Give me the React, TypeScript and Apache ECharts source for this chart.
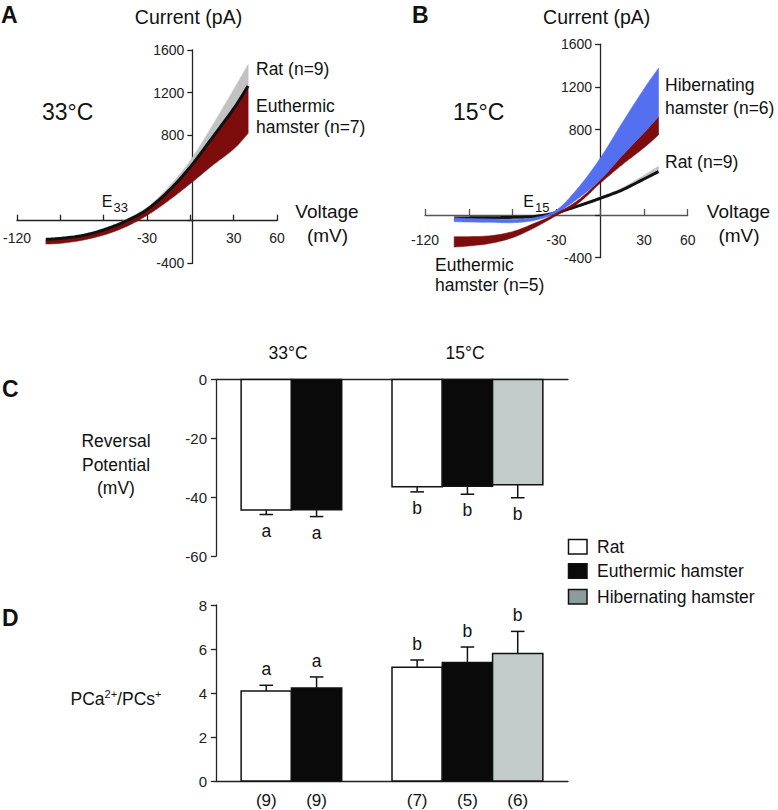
import React, { useEffect, useRef } from "react";
import * as echarts from "echarts";

// ---------- Data: I-V curves (A: 33 °C, B: 15 °C) ----------
const voltages = [-100, -90, -75, -60, -45, -30, -15, 0, 15, 30, 40];

const ratMean33 = [-175, -166, -140, -86, -6, 105, 280, 505, 775, 1050, 1263];
const ratErr33 = [8, 8, 10, 12, 15, 20, 35, 60, 110, 180, 200];
const euthTop33 = [-178, -169, -144, -92, -13, 95, 268, 492, 762, 1036, 1250];
const euthBottom33 = [-218, -212, -183, -134, -59, 50, 190, 348, 515, 672, 819];

const ratMean15 = [-28, -27, -26, -22, -14, 22, 85, 156, 234, 337, 406];
const ratErr15 = [5, 5, 5, 5, 5, 6, 8, 12, 20, 35, 50];
const hibTop15 = [-25, -33, -37, -40, -25, 45, 255, 531, 860, 1180, 1375];
const hibBottom15 = [-62, -66, -68, -72, -50, 20, 156, 328, 555, 770, 921];
const euthTop15 = [-203, -203, -194, -156, -78, 15, 140, 328, 555, 770, 921];
const euthBottom15 = [-300, -290, -265, -212, -119, -5, 110, 297, 470, 630, 750];

const xTickLabelsShown = [-120, -30, 30, 60];
const yTickLabelsShown = [1600, 1200, 800, -400];

// ---------- Data: bar panels (C, D) ----------
const groupNames = ["Rat", "Euthermic hamster", "Hibernating hamster"];
const barPositions = [1, 2, 4, 5, 6];
const barGroup = [0, 1, 0, 1, 2];
const reversalMean = [-44.4, -44.3, -36.5, -36.3, -35.8];
const reversalSem = [1.5, 2.3, 1.7, 2.7, 4.4];
const reversalLetters = ["a", "a", "b", "b", "b"];
const permMean = [4.09, 4.23, 5.17, 5.39, 5.79];
const permSem = [0.26, 0.5, 0.33, 0.7, 1.01];
const permLetters = ["a", "a", "b", "b", "b"];
const nLabels = ["(9)", "(9)", "(7)", "(5)", "(6)"];

const FONT = "'Liberation Sans', Arial, Helvetica, sans-serif";
const barFills = ["#ffffff", "#0a0a0a", "#c3cbca"];
const legendFills = ["#ffffff", "#0a0a0a", "#8d9c9a"];
const RED = "#7d0c0c";
const BLUE = "#5470f0";
const GREY = "#c2c2c2";

// Catmull-Rom smoothing of pixel points (render-time only)
function smoothPts(p: number[][]): number[][] {
  const out: number[][] = [];
  const n = p.length;
  for (let i = 0; i < n - 1; i++) {
    const p0 = p[Math.max(0, i - 1)];
    const p1 = p[i];
    const p2 = p[i + 1];
    const p3 = p[Math.min(n - 1, i + 2)];
    const steps = 12;
    for (let s = 0; s < steps; s++) {
      const t = s / steps;
      const t2 = t * t;
      const t3 = t2 * t;
      const f = (a: number, b: number, c: number, d: number) =>
        0.5 * (2 * b + (-a + c) * t + (2 * a - 5 * b + 4 * c - d) * t2 + (-a + 3 * b - 3 * c + d) * t3);
      out.push([f(p0[0], p1[0], p2[0], p3[0]), f(p0[1], p1[1], p2[1], p3[1])]);
    }
  }
  out.push(p[n - 1]);
  return out;
}

function bandSeries(gi: number, bottom: number[], top: number[], color: string, z: number) {
  return {
    type: "custom", xAxisIndex: gi, yAxisIndex: gi, silent: true, z,
    data: [[voltages[0], top[0]]],
    renderItem: (params: any, api: any) => {
      const t = smoothPts(voltages.map((v, i) => api.coord([v, top[i]])));
      const b = smoothPts(voltages.map((v, i) => api.coord([v, bottom[i]]))).reverse();
      return {
        type: "polygon",
        shape: { points: t.concat(b) },
        style: { fill: color, stroke: color, lineWidth: 0.6 },
      };
    },
  };
}

function meanLine(gi: number, ys: number[], z: number) {
  return {
    type: "custom", xAxisIndex: gi, yAxisIndex: gi, silent: true, z,
    data: [[voltages[0], ys[0]]],
    renderItem: (params: any, api: any) => ({
      type: "polyline",
      shape: { points: smoothPts(voltages.map((v, i) => api.coord([v, ys[i]]))) },
      style: { stroke: "#111", lineWidth: 3, fill: "none" },
    }),
  };
}

function ivAxes(gi: number, gridW: number, gridH: number, labelMarginX: number, yPadTop: number, xColor: string) {
  const x = {
    type: "value", gridIndex: gi, min: -120, max: 60, interval: 30,
    position: "bottom", offset: -(gridH * 400) / 2000,
    axisLine: { onZero: false, lineStyle: { color: xColor, width: 1.3 } },
    axisTick: { inside: true, length: 6, lineStyle: { color: xColor, width: 1.3 } },
    splitLine: { show: false },
    axisLabel: {
      margin: labelMarginX, fontSize: 14, fontFamily: FONT, color: "#222",
      formatter: (v: number) => (xTickLabelsShown.includes(v) ? String(v) : ""),
    },
  };
  const y = {
    type: "value", gridIndex: gi, min: -400, max: 1600, interval: 400,
    position: "left", offset: -(gridW * 120) / 180,
    axisLine: { show: true, onZero: false, lineStyle: { color: "#222", width: 1.3 } },
    axisTick: { show: true, length: 5, lineStyle: { color: "#222", width: 1.3 } },
    splitLine: { show: false },
    axisLabel: {
      margin: 8, fontSize: 14, fontFamily: FONT, color: "#222", padding: [yPadTop, 0, 0, 0],
      formatter: (v: number) => (yTickLabelsShown.includes(v) ? String(v) : ""),
    },
  };
  return { x, y };
}

function barRenderer(letters: string[], withN: boolean) {
  return (params: any, api: any) => {
    const x = api.value(0);
    const y = api.value(1);
    const e = api.value(2);
    const idx = api.value(3);
    const base = api.coord([x, 0]);
    const top = api.coord([x, y]);
    const w = api.size([1, 0])[0];
    const dir = y < 0 ? -1 : 1;
    const end = api.coord([x, y + dir * e]);
    const stroke = { stroke: "#111", lineWidth: 1.5 };
    const children: any[] = [
      { type: "line", shape: { x1: top[0], y1: top[1], x2: end[0], y2: end[1] }, style: stroke },
      { type: "line", shape: { x1: end[0] - 6.8, y1: end[1], x2: end[0] + 6.8, y2: end[1] }, style: stroke },
      {
        type: "rect",
        shape: {
          x: base[0] - w / 2, y: Math.min(base[1], top[1]),
          width: w, height: Math.abs(top[1] - base[1]),
        },
        style: { fill: barFills[barGroup[idx]], stroke: "#111", lineWidth: 1.5 },
      },
      {
        type: "text",
        x: end[0], y: end[1] - dir * 16,
        style: {
          text: letters[idx], fontSize: 17.5, fontFamily: FONT, fill: "#111",
          align: "center", verticalAlign: "middle",
          textAlign: "center", textVerticalAlign: "middle",
        },
      },
    ];
    if (withN) {
      children.push({
        type: "text",
        x: base[0], y: base[1] + 19.5,
        style: {
          text: nLabels[idx], fontSize: 17, fontFamily: FONT, fill: "#111",
          align: "center", verticalAlign: "middle",
          textAlign: "center", textVerticalAlign: "middle",
        },
      });
    }
    return { type: "group", children };
  };
}

function txt(text: string, x: number, y: number, size: number, align = "left", weight = "normal") {
  return {
    type: "text", x, y, silent: true,
    style: {
      text, fontSize: size, fontFamily: FONT, fontWeight: weight, fill: "#111",
      align, verticalAlign: "middle", textAlign: align, textVerticalAlign: "middle",
    },
  };
}

export default function App() {
  const ref = useRef<HTMLDivElement>(null);

  useEffect(() => {
    if (!ref.current) return;
    const chart = echarts.init(ref.current, undefined, { renderer: "svg" });

    const gA = { left: 14, top: 50, width: 263, height: 213.4 };
    const gB = { left: 425, top: 44.2, width: 262.7, height: 213.5 };
    const axA = ivAxes(0, gA.width, gA.height, 10, 0, "#222");
    const axB = ivAxes(1, gB.width, gB.height, 18, 12, "#555");

    const barX = (gi: number, position: string) => ({
      type: "value", gridIndex: gi, min: 0, max: 7, position,
      axisLine: { onZero: false, lineStyle: { color: "#222", width: 1.3 } },
      axisTick: { show: false }, axisLabel: { show: false }, splitLine: { show: false },
    });
    const barY = (gi: number, min: number, max: number, interval: number) => ({
      type: "value", gridIndex: gi, min, max, interval, position: "left",
      axisLine: { show: true, onZero: false, lineStyle: { color: "#222", width: 1.3 } },
      axisTick: { show: true, length: 5, lineStyle: { color: "#222", width: 1.3 } },
      splitLine: { show: false },
      axisLabel: { margin: 9, fontSize: 15, fontFamily: FONT, color: "#222" },
    });

    const legendRows = [546.7, 571, 596.7];

    const option: any = {
      animation: false,
      backgroundColor: "#ffffff",
      grid: [
        gA,
        gB,
        { left: 216, top: 379.5, width: 352, height: 176.5 },
        { left: 216, top: 605, width: 352, height: 176 },
      ],
      xAxis: [axA.x, axB.x, barX(2, "top"), barX(3, "bottom")],
      yAxis: [axA.y, axB.y, barY(2, -60, 0, 20), barY(3, 0, 8, 2)],
      series: [
        // Panel A
        bandSeries(0, ratMean33, ratMean33.map((m, i) => m + ratErr33[i]), GREY, 2),
        bandSeries(0, euthBottom33, euthTop33, RED, 3),
        meanLine(0, ratMean33, 4),
        // Panel B
        bandSeries(1, ratMean15, ratMean15.map((m, i) => m + ratErr15[i]), GREY, 2),
        meanLine(1, ratMean15, 3),
        bandSeries(1, euthBottom15, euthTop15, RED, 4),
        bandSeries(1, hibBottom15, hibTop15, BLUE, 5),
        // Panel C
        {
          type: "custom", xAxisIndex: 2, yAxisIndex: 2, silent: true,
          data: barPositions.map((p, i) => [p, reversalMean[i], reversalSem[i], i]),
          renderItem: barRenderer(reversalLetters, false),
        },
        // Panel D
        {
          type: "custom", xAxisIndex: 3, yAxisIndex: 3, silent: true,
          data: barPositions.map((p, i) => [p, permMean[i], permSem[i], i]),
          renderItem: barRenderer(permLetters, true),
        },
      ],
      graphic: {
        elements: [
          // Panel A
          txt("A", 1, 15, 23, "left", "bold"),
          txt("Current (pA)", 188.5, 17, 19.5, "center"),
          txt("33°C", 42, 112, 23),
          txt("Rat (n=9)", 256, 69, 17.5),
          txt("Euthermic", 256, 106, 17.5),
          txt("hamster (n=7)", 256, 127, 17.5),
          txt("Voltage", 327, 211.7, 19, "center"),
          txt("(mV)", 327.5, 235, 19, "center"),
          txt("E", 101.7, 201.7, 16),
          txt("33", 113.5, 207.5, 13),
          // Panel B
          txt("B", 412, 15, 23, "left", "bold"),
          txt("Current (pA)", 596.7, 16.7, 19.5, "center"),
          txt("15°C", 453, 111.7, 23),
          txt("Hibernating", 665, 85, 17.5),
          txt("hamster (n=6)", 665, 108.3, 17.5),
          txt("Rat (n=9)", 665, 162.3, 17.5),
          txt("Voltage", 738.5, 211.7, 19, "center"),
          txt("(mV)", 739, 235, 19, "center"),
          txt("Euthermic", 435, 265, 17.5),
          txt("hamster (n=5)", 435, 285, 17.5),
          txt("E", 523.3, 201.7, 16),
          txt("15", 535, 207.5, 13),
          // Panel C
          txt("C", 2, 389, 23, "left", "bold"),
          txt("33°C", 288, 352.7, 17.5, "center"),
          txt("15°C", 465, 352.7, 17.5, "center"),
          txt("Reversal", 116, 441, 17.5, "center"),
          txt("Potential", 116, 464.5, 17.5, "center"),
          txt("(mV)", 116, 488.3, 17.5, "center"),
          // Panel D
          txt("D", 2, 618, 23, "left", "bold"),
          {
            type: "text", x: 116, y: 699, silent: true,
            style: {
              text: "{n|PCa}{s|2+}{n|/PCs}{s|+}",
              fontFamily: FONT, fill: "#111",
              align: "center", verticalAlign: "middle",
              textAlign: "center", textVerticalAlign: "middle",
              rich: {
                n: { fontSize: 17.5, fontFamily: FONT, fill: "#111", lineHeight: 22 },
                s: { fontSize: 11, fontFamily: FONT, fill: "#111", lineHeight: 22, verticalAlign: "top" },
              },
            },
          },
          // Legend
          ...groupNames.flatMap((g, i) => [
            {
              type: "rect", silent: true,
              shape: { x: 568.5, y: legendRows[i] - 7.3, width: 18.5, height: 14.6 },
              style: { fill: legendFills[i], stroke: "#111", lineWidth: 1.5 },
            },
            txt(g, 597, legendRows[i], 17.5),
          ]),
        ],
      },
    };

    chart.setOption(option);
    return () => chart.dispose();
  }, []);

  return (
    <div
      ref={ref}
      style={{ position: "absolute", left: 0, top: 0, width: 778, height: 810 }}
    />
  );
}
